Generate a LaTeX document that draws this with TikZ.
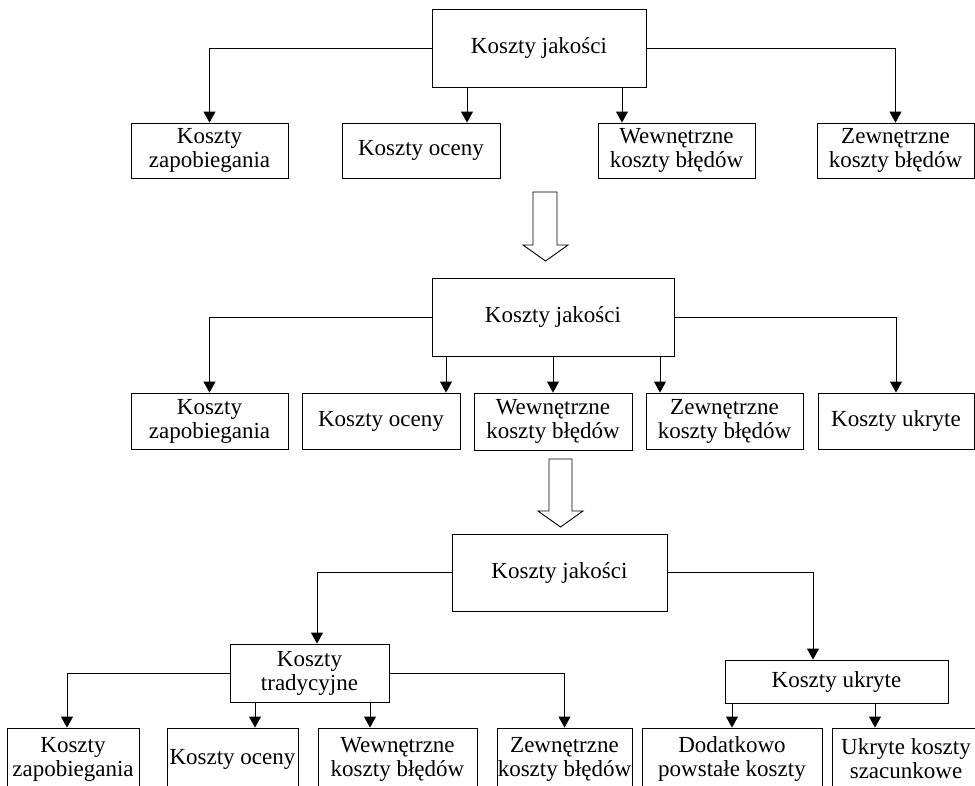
\documentclass[tikz,border=0pt]{standalone}
\usepackage{fontspec}
\setmainfont{Liberation Serif}
\usetikzlibrary{arrows.meta}

\begin{document}
\begin{tikzpicture}[>={Triangle[length=11pt,width=12pt]},x=1pt,y=-1pt,line width=0.9pt,
  box/.style={draw,inner sep=0pt,align=center,font=\fontsize{23}{24}\selectfont}]
 \clip (0,0) rectangle (975,785);
 \useasboundingbox (0,0) rectangle (975,785);
 % pierwszy podzial
 \node[box,minimum width=214,minimum height=78] (top1) at (539,48) {Koszty jakości};
 \node[box,minimum width=157,minimum height=55] (zap1) at (209.5,150.5) {Koszty\\zapobiegania};
 \node[box,minimum width=158,minimum height=55] (oce1) at (421,150.5) {Koszty oceny};
 \node[box,minimum width=157,minimum height=55] (wew1) at (676.5,150.5) {Wewnętrzne\\koszty błędów};
 \node[box,minimum width=157,minimum height=55] (zew1) at (895.5,150.5) {Zewnętrzne\\koszty błędów};
 \draw[->] (top1.west) -| (zap1.north);
 \draw[->] ([xshift=46]oce1.north |- top1.south) -- ([xshift=46]oce1.north);
 \draw[->] ([xshift=-54.5]wew1.north |- top1.south) -- ([xshift=-54.5]wew1.north);
 \draw[->] (top1.east) -| (zew1.north);
 \draw (533,192) -- (557,192) -- (557,245) -- (568,245) -- (545.5,261) -- (523,245) -- (533,245) -- cycle;
 % drugi podzial
 \node[box,minimum width=242,minimum height=78] (top2) at (553,317) {Koszty jakości};
 \node[box,minimum width=157,minimum height=56] (zap2) at (209.5,421) {Koszty\\zapobiegania};
 \node[box,minimum width=158,minimum height=56] (oce2) at (381,421) {Koszty oceny};
 \node[box,minimum width=158,minimum height=57] (wew2) at (553,421.5) {Wewnętrzne\\koszty błędów};
 \node[box,minimum width=157,minimum height=56] (zew2) at (724.5,421) {Zewnętrzne\\koszty błędów};
 \node[box,minimum width=156,minimum height=56] (ukr2) at (896,421) {Koszty ukryte};
 \draw[->] (top2.west) -| (zap2.north);
 \draw[->] ([xshift=65]oce2.north |- top2.south) -- ([xshift=65]oce2.north);
 \draw[->] (top2.south) -- (wew2.north);
 \draw[->] ([xshift=-64.5]zew2.north |- top2.south) -- ([xshift=-64.5]zew2.north);
 \draw[->] (top2.east) -| (ukr2.north);
 \draw (549,459) -- (572,459) -- (572,511) -- (583,511) -- (560.5,527) -- (538,511) -- (549,511) -- cycle;
 % trzeci podzial
 \node[box,minimum width=215,minimum height=77] (top3) at (559.5,572.5) {Koszty jakości};
 \node[box,minimum width=159,minimum height=58] (trad) at (309.5,673) {Koszty\\tradycyjne};
 \node[box,minimum width=223,minimum height=43] (ukr3) at (836.5,681.5) {Koszty ukryte};
 \node[box,minimum width=132,minimum height=62] (zap3) at (73,759) {Koszty\\zapobiegania};
 \node[box,minimum width=131,minimum height=62] (oce3) at (232.5,759) {Koszty oceny};
 \node[box,minimum width=159,minimum height=62] (wew3) at (397.5,759) {Wewnętrzne\\koszty błędów};
 \node[box,minimum width=135,minimum height=62] (zew3) at (564.5,759) {Zewnętrzne\\koszty błędów};
 \node[box,minimum width=180,minimum height=62] (dod3) at (732,759) {Dodatkowo\\powstałe koszty};
 \node[box,minimum width=148,minimum height=62] (sza3) at (906,759) {Ukryte koszty\\szacunkowe};
 \draw[->] (top3.west) -| ([xshift=7.5]trad.north);
 \draw[->] (top3.east) -| ([xshift=-23.5]ukr3.north);
 \draw[->] (trad.west) -| ([xshift=-6]zap3.north);
 \draw[->] ([xshift=22.5]oce3.north |- trad.south) -- ([xshift=22.5]oce3.north);
 \draw[->] ([xshift=-27.5]wew3.north |- trad.south) -- ([xshift=-27.5]wew3.north);
 \draw[->] (trad.east) -| (zew3.north);
 \draw[->] (ukr3.south -| dod3.north) -- (dod3.north);
 \draw[->] ([xshift=-31]sza3.north |- ukr3.south) -- ([xshift=-31]sza3.north);
\end{tikzpicture}
\end{document}
